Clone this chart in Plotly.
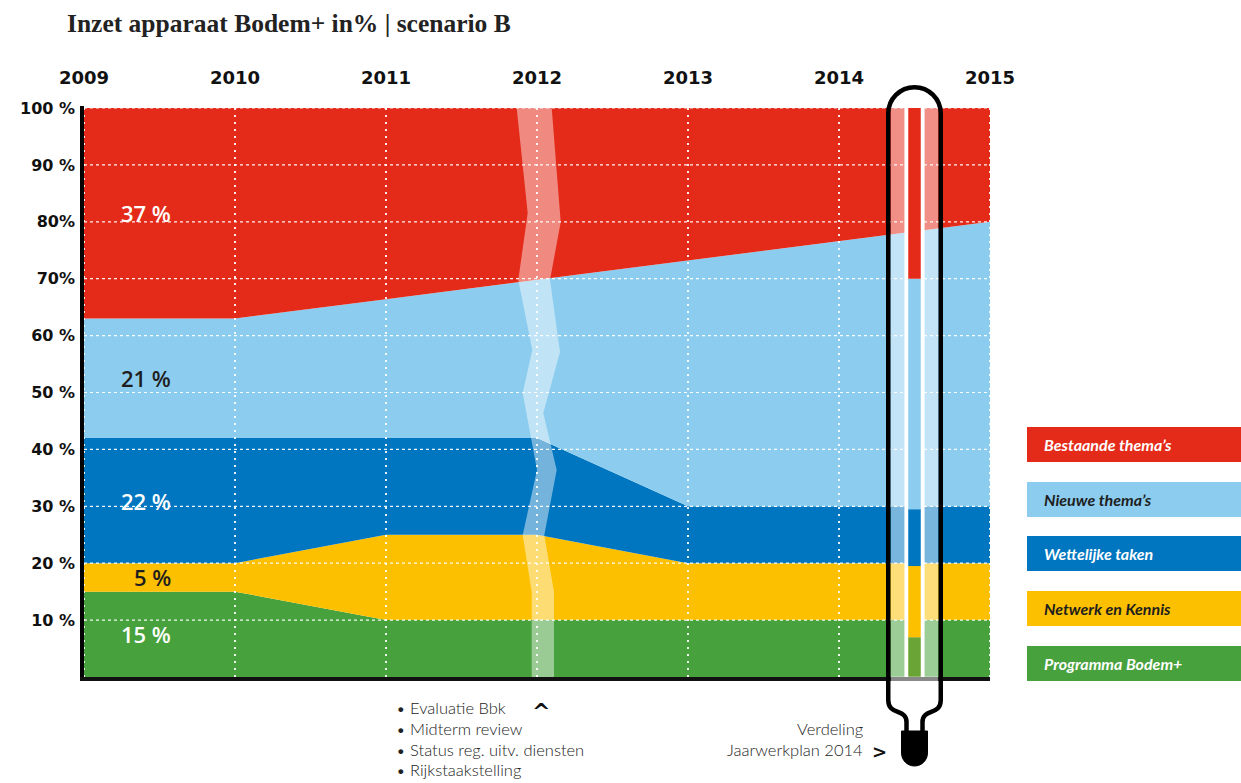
import numpy as np
import plotly.graph_objects as go

# ---------------- data ----------------
years = [2009, 2010, 2011, 2012, 2013, 2014, 2015]
categories = ["Programma Bodem+", "Netwerk en Kennis", "Wettelijke taken",
              "Nieuwe thema’s", "Bestaande thema’s"]
programma_bodem = [15, 15, 10, 10, 10, 10, 10]
netwerk_kennis = [5, 5, 15, 15, 10, 10, 10]
wettelijke_taken = [22, 22, 17, 17, 10, 10, 10]
nieuwe_themas = [21, 21, 24.4, 27.8, 43.2, 46.6, 50]
bestaande_themas = [37, 37, 33.6, 30.2, 26.8, 23.4, 20]
# distribution "Jaarwerkplan 2014" (same category order)
jaarwerkplan_2014 = [7, 12.5, 10, 40.5, 30]
jaarwerkplan_year = 2014.5

y_tickvals = [10, 20, 30, 40, 50, 60, 70, 80, 90, 100]
y_ticktext = ["10 %", "20 %", "30 %", "40 %", "50 %", "60 %", "70%", "80%", "90 %", "100 %"]
x_ticktext = [str(y) for y in years]

# ---------------- styles ----------------
colors = ["#47a13c", "#fcc000", "#0076c0", "#8ccdef", "#e42b1a"]
thermo_colors = ["#6aa437", "#fcc000", "#0076c0", "#8ccdef", "#e42b1a"]
label_colors = ["white", "#1e1e1e", "white", "#1e1e1e", "white"]
legend_text_colors = ["white", "#1e1e1e", "white", "#1e1e1e", "white"]
series = [programma_bodem, netwerk_kennis, wettelijke_taken, nieuwe_themas, bestaande_themas]

W, H = 1241, 783
PL, PR, PT, PB = 84, 990, 108, 677  # plot area in px


def xd(px):  # px -> data x
    return years[0] + (px - PL) * (years[-1] - years[0]) / (PR - PL)


def yd(py):  # px -> data y
    return (PB - py) * 100 / (PB - PT)


def xp(px):  # px -> paper x
    return (px - PL) / (PR - PL)


def yp(py):  # px -> paper y
    return (PB - py) / (PB - PT)


fig = go.Figure()

# stacked areas
for name, vals, col in zip(categories, series, colors):
    fig.add_trace(go.Scatter(
        x=years, y=vals, stackgroup="one", mode="lines", name=name,
        line=dict(width=0, color=col), fillcolor=col, hoverinfo="skip",
        showlegend=False))

# 2012 translucent zigzag band (decoration)
left_edge = [(516.7, 108), (527.7, 213), (518.3, 280), (532.3, 350), (522.7, 393),
             (537, 470), (522.7, 535), (531.7, 592), (531.7, 677)]
right_edge = [(551.7, 108), (560.7, 222), (550, 280), (560, 352), (543.3, 413),
              (556.7, 470), (544.3, 535), (554, 592), (554, 677)]
poly = left_edge + right_edge[::-1]
fig.add_trace(go.Scatter(
    x=[xd(p[0]) for p in poly], y=[yd(p[1]) for p in poly], mode="lines",
    fill="toself", fillcolor="rgba(255,255,255,0.45)", line=dict(width=0),
    hoverinfo="skip", showlegend=False))

# gridlines above the areas
hx, hy = [], []
for v in y_tickvals:
    hx += [years[0], years[-1], None]
    hy += [v, v, None]
fig.add_trace(go.Scatter(x=hx, y=hy, mode="lines",
                         line=dict(color="rgba(255,255,255,0.95)", width=1.2, dash="3px,3px"),
                         hoverinfo="skip", showlegend=False))
vx, vy = [], []
for yr in years:
    vx += [yr, yr, None]
    vy += [0, 100, None]
fig.add_trace(go.Scatter(x=vx, y=vy, mode="lines",
                         line=dict(color="rgba(255,255,255,0.9)", width=2, dash="2px,5px"),
                         hoverinfo="skip", showlegend=False))

# thermometer: pale strips, white gap, coloured bar
cxp = PL + (jaarwerkplan_year - years[0]) * (PR - PL) / (years[-1] - years[0])


def rect_trace(x0px, x1px, y0, y1, color):
    return go.Scatter(x=[xd(x0px), xd(x1px), xd(x1px), xd(x0px), xd(x0px)],
                      y=[y0, y0, y1, y1, y0], mode="lines", fill="toself",
                      fillcolor=color, line=dict(width=0), hoverinfo="skip",
                      showlegend=False)


fig.add_trace(rect_trace(cxp - 23.75, cxp - 10.25, 0, 100, "rgba(255,255,255,0.47)"))
fig.add_trace(rect_trace(cxp + 10.25, cxp + 23.75, 0, 100, "rgba(255,255,255,0.47)"))
fig.add_trace(rect_trace(cxp - 10.25, cxp + 10.25, 0, 100, "white"))
base = np.concatenate([[0], np.cumsum(jaarwerkplan_2014)])
for i, col in enumerate(thermo_colors):
    fig.add_trace(rect_trace(cxp - 6.25, cxp + 6.25, base[i], base[i + 1], col))

# in-chart labels for 2009 values
cum0 = np.concatenate([[0], np.cumsum([s[0] for s in series])])
for i, s in enumerate(series):
    fig.add_annotation(x=xd(173), y=(cum0[i] + cum0[i + 1]) / 2, xref="x", yref="y",
                       text=f"{s[0]} %", showarrow=False, xanchor="right", yanchor="middle",
                       font=dict(family="Open Sans", size=22, color=label_colors[i], weight=600))

shapes = []
# axis lines
shapes.append(dict(type="line", xref="paper", yref="paper", x0=xp(82), x1=xp(82),
                   y0=yp(681), y1=yp(106), line=dict(color="black", width=4), layer="above"))
shapes.append(dict(type="line", xref="paper", yref="paper", x0=xp(80), x1=xp(PR),
                   y0=yp(679), y1=yp(679), line=dict(color="#111", width=4), layer="above"))
# translucent over the axis inside the thermometer
shapes.append(dict(type="rect", xref="paper", yref="paper", x0=xp(cxp - 23.75), x1=xp(cxp + 23.75),
                   y0=yp(681.5), y1=yp(676.5), fillcolor="rgba(255,255,255,0.5)",
                   line=dict(width=0), layer="above"))


def P(px, py):
    return f"{xp(px):.5f},{yp(py):.5f}"


Lx, Rx, r = cxp - 26.25, cxp + 26.25, 26.25
ytop, yarc = 87.25, 87.25 + 26.25
k = 0.5523 * r
nl, nr = cxp - 8, cxp + 8
outline = (f"M{P(nl, 732)} L{P(nl, 722)} C{P(nl, 708)} {P(Lx, 716)} {P(Lx, 700)} "
           f"L{P(Lx, yarc)} C{P(Lx, yarc - k)} {P(cxp - k, ytop)} {P(cxp, ytop)} "
           f"C{P(cxp + k, ytop)} {P(Rx, yarc - k)} {P(Rx, yarc)} "
           f"L{P(Rx, 700)} C{P(Rx, 716)} {P(nr, 708)} {P(nr, 722)} L{P(nr, 732)}")
shapes.append(dict(type="path", xref="paper", yref="paper", path=outline,
                   line=dict(color="black", width=4.5), layer="above"))
br = 13
kb = 0.5523 * br
bulb = (f"M{P(cxp - br, 731)} L{P(cxp + br, 731)} L{P(cxp + br, 753)} "
        f"C{P(cxp + br, 753 + kb)} {P(cxp + kb, 766)} {P(cxp, 766)} "
        f"C{P(cxp - kb, 766)} {P(cxp - br, 753 + kb)} {P(cxp - br, 753)} Z")
shapes.append(dict(type="path", xref="paper", yref="paper", path=bulb,
                   fillcolor="black", line=dict(color="black", width=1), layer="above"))

# legend boxes (top to bottom: Bestaande ... Programma)
legend_tops = [427, 482, 536, 591, 646]
for j, i in enumerate(range(len(categories) - 1, -1, -1)):
    t = legend_tops[j]
    shapes.append(dict(type="rect", xref="paper", yref="paper", x0=xp(1027), x1=xp(1241),
                       y0=yp(t + 35), y1=yp(t), fillcolor=colors[i], line=dict(width=0)))
    fig.add_annotation(x=xp(1042), y=yp(t + 17.5), xref="paper", yref="paper",
                       text=categories[i], showarrow=False, xanchor="left", yanchor="middle",
                       font=dict(family="Lato", size=16, color=legend_text_colors[i],
                                 style="italic", weight="bold"))

# notes below chart
notes = ["• Evaluatie Bbk", "• Midterm review", "• Status reg. uitv. diensten", "• Rijkstaakstelling"]
for n, txt in enumerate(notes):
    fig.add_annotation(x=xp(394), y=yp(708 + 20.8 * n), xref="paper", yref="paper", text=txt,
                       showarrow=False, xanchor="left", yanchor="middle",
                       font=dict(family="Lato", size=16.5, color="#222", weight=300))
fig.add_annotation(x=xp(541), y=yp(711), xref="paper", yref="paper", text="<b>^</b>",
                   showarrow=False, xanchor="center", yanchor="middle",
                   font=dict(family="DejaVu Sans", size=22, color="#111"))
fig.add_annotation(x=xp(865), y=yp(729), xref="paper", yref="paper", text="Verdeling",
                   showarrow=False, xanchor="right", yanchor="middle",
                   font=dict(family="Lato", size=16.5, color="#222", weight=300))
fig.add_annotation(x=xp(865), y=yp(750), xref="paper", yref="paper", text="Jaarwerkplan 2014",
                   showarrow=False, xanchor="right", yanchor="middle",
                   font=dict(family="Lato", size=16.5, color="#222", weight=300))
fig.add_annotation(x=xp(879), y=yp(751), xref="paper", yref="paper", text="<b>&gt;</b>",
                   showarrow=False, xanchor="center", yanchor="middle",
                   font=dict(family="DejaVu Sans", size=18, color="#111"))

fig.update_layout(
    width=W, height=H,
    margin=dict(l=PL, r=W - PR, t=PT, b=H - PB),
    paper_bgcolor="white", plot_bgcolor="white",
    shapes=shapes,
    showlegend=False,
    title=dict(text="Inzet apparaat Bodem+ in% | scenario B", x=67 / W, xanchor="left",
               xref="container", yref="container", y=1 - 23 / H, yanchor="middle",
               font=dict(family="Liberation Serif", size=25.5, color="#222", weight="bold")),
    xaxis=dict(range=[years[0], years[-1]], side="top", tickvals=years, ticktext=x_ticktext,
               showgrid=False, zeroline=False, showline=False, ticks="", ticklabelstandoff=19,
               tickfont=dict(family="DejaVu Sans", size=18, color="#111", weight="bold"),
               fixedrange=True),
    yaxis=dict(range=[0, 100], tickvals=y_tickvals, ticktext=y_ticktext, showgrid=False,
               zeroline=False, showline=False, ticks="", ticklabelstandoff=8,
               tickfont=dict(family="DejaVu Sans", size=16, color="#111", weight="bold"),
               fixedrange=True),
)

fig.write_html("out.html", config={"displayModeBar": False},
               post_script="document.body.style.margin='0px';")
